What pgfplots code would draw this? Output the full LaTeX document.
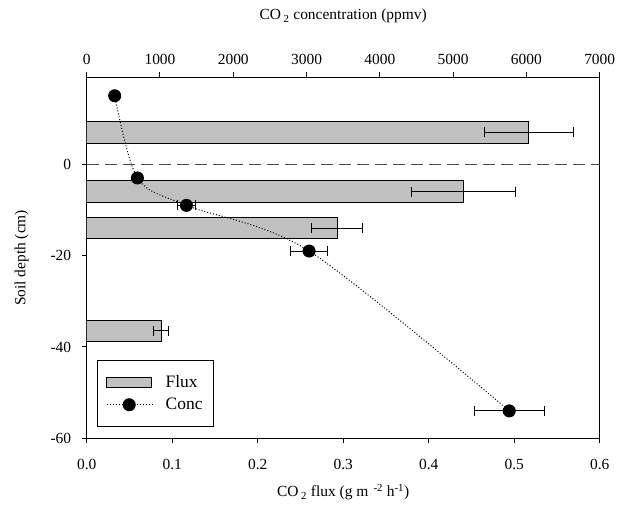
\documentclass[border=0pt]{standalone}
\usepackage{pgfplots}
\pgfplotsset{compat=1.18}
\usepackage{fontspec}
\setmainfont{Liberation Serif}
\definecolor{barfill}{RGB}{192,192,192}
\pgfplotsset{
  common/.style={
    width=513bp, height=360.8bp, scale only axis,
    ymin=-60, ymax=19,
    tick align=outside,
    major tick length=5bp,
    tick style={black, line width=1bp},
    axis line style={black, line width=1bp},
    tick label style={font=\fontsize{15.5}{18}\selectfont},
    label style={font=\fontsize{15.5}{18}\selectfont},
    /pgf/number format/assume math mode=true,
  },
  conclegend/.style={legend image code/.code={\path[draw=none] (0bp,0bp) -- (57bp,0bp);\draw[mark repeat=2,mark phase=2,##1] plot coordinates {(0bp,0bp) (22.5bp,0bp) (45bp,0bp)};}},
  fluxlegend/.style={legend image code/.code={\path[draw=none] (0bp,0bp) -- (57bp,0bp);\draw[draw=black, fill=barfill, line width=1bp] (0bp,-5bp) rectangle (45bp,5bp);}},
}
\begin{document}
\begin{tikzpicture}
\begin{axis}[common, name=ax,
  xmin=0, xmax=0.6,
  xtick={0,0.1,0.2,0.3,0.4,0.5,0.6},
  xticklabel style={/pgf/number format/.cd, fixed, fixed zerofill, precision=1, /tikz/.cd, yshift=-12bp},
  yticklabel style={xshift=-7bp},
  xtick pos=bottom,
  ytick={-60,-40,-20,0},
  ytick pos=left,
  xlabel={CO\,\textsubscript{2} flux (g m\,\,\textsuperscript{-2} h\textsuperscript{-1})},
  xlabel style={at={(axis description cs:0.5,-0.150)}, anchor=center},
  ylabel={Soil depth (cm)},
  ylabel style={at={(axis description cs:-0.1267,0.5)}, anchor=center},
]
\addplot[black!70, line width=1bp, dash pattern=on 12bp off 6bp, forget plot] coordinates {(0,0) (0.6,0)};
\addplot[xbar, bar width=4.7, fill=barfill, draw=black, line width=1bp,
  error bars/.cd, x dir=both, x explicit,
  error mark=|,
  error bar style={black, line width=1bp},
  error mark options={black, line width=1bp, mark size=5bp}]
coordinates {
  (0.517,7.0) +- (0.052,0)
  (0.441,-6.0) +- (0.061,0)
  (0.293,-14.0) +- (0.030,0)
  (0.087,-36.5) +- (0.009,0)
};
\end{axis}
\begin{axis}[common,
  xmin=0, xmax=7000,
  axis x line*=top,
  axis y line=none,
  xtick={0,1000,2000,3000,4000,5000,6000,7000},
  xticklabel style={/pgf/number format/1000 sep={}, yshift=4bp},
  xlabel={CO\,\textsubscript{2} concentration (ppmv)},
  xlabel style={at={(axis description cs:0.5,1.170)}, anchor=center},
  legend style={at={(axis description cs:0.0195,0.032)}, anchor=south west,
    draw=black, line width=1bp, inner xsep=9bp, inner ysep=13bp,
    font=\fontsize{17.5}{20}\selectfont, row sep=5bp,
    nodes={inner sep=2bp}},
  legend cell align=left,
]
\addlegendimage{fluxlegend}
\addlegendentry{Flux}
\addplot[black, line width=1bp, dotted, smooth, mark=*, mark size=6bp, mark options={solid},
  conclegend,
  error bars/.cd, x dir=both, x explicit,
  error mark=|,
  error bar style={black, solid, line width=1bp},
  error mark options={black, solid, line width=1bp, mark size=5bp}]
coordinates {
  (382,15) +- (0,0)
  (692,-3) +- (0,0)
  (1361,-9) +- (123,0)
  (3035,-19) +- (248,0)
  (5766,-54) +- (481,0)
};
\addlegendentry{Conc}
\end{axis}
\pgfresetboundingbox
\path ([shift={(-86.7bp,-72.7bp)}]ax.south west) rectangle ([shift={(24.3bp,77.5bp)}]ax.north east);
\end{tikzpicture}
\end{document}
